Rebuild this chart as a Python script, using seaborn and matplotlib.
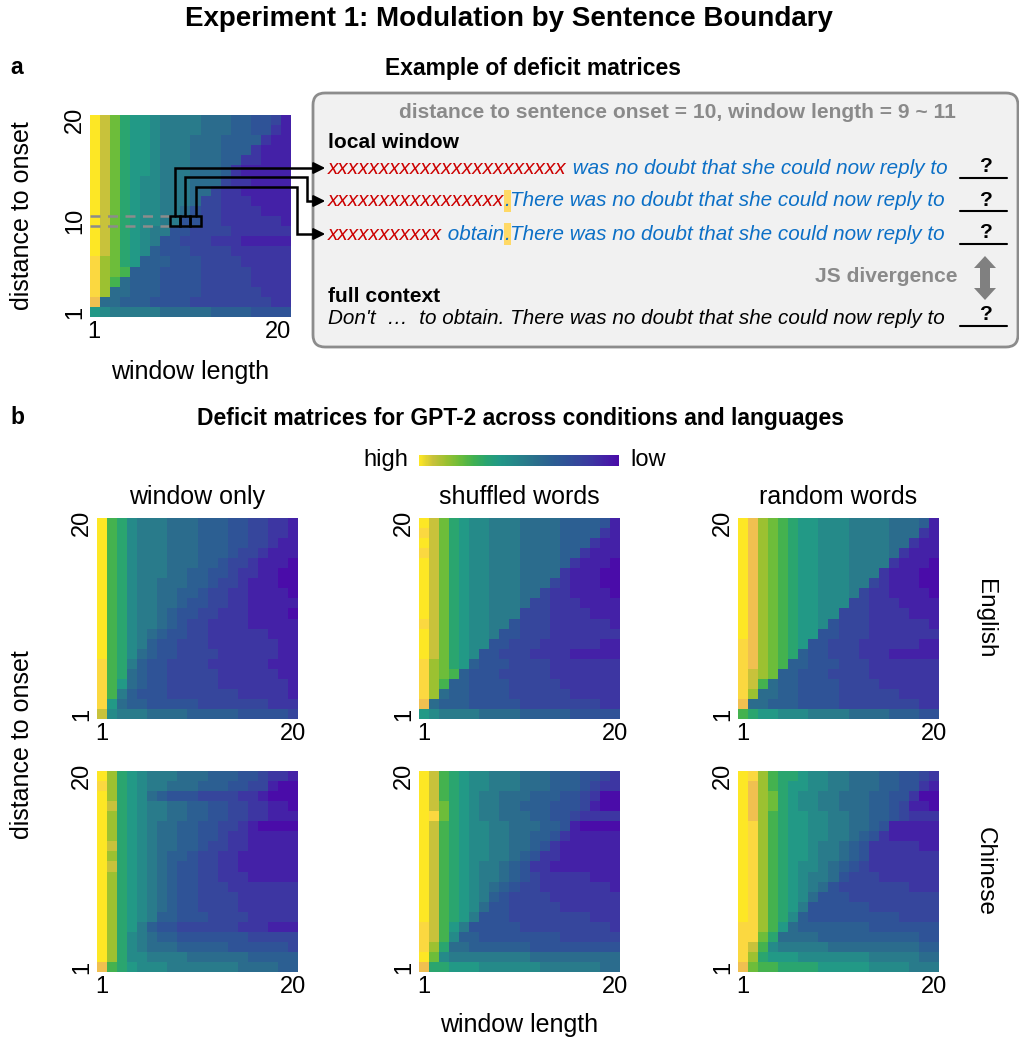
import numpy as np
import pandas as pd
import matplotlib
matplotlib.use("Agg")
import matplotlib.pyplot as plt
import seaborn as sns
from matplotlib.colors import LinearSegmentedColormap
from matplotlib.patches import FancyBboxPatch, Rectangle, Polygon
from matplotlib.lines import Line2D

# ---------------- data ----------------
# deficit level per cell, coded 0 (low) ... f (high), g/h = highest (orange tint)
LEVEL_CHARS = "0123456789abcdefgh"
window_length = list(range(1, 21))
distance = list(range(20, 0, -1))          # rows listed from distance 20 (top) to 1

example_matrix = [
    "feca9987777666554431", "feca9987777666554421", "feca9987776665555211",
    "feca9987776665552111", "feca9987776665522111", "feca9987776665211111",
    "feca9887776663221111", "feca9887776632211111", "feca9887776332221111",
    "feca9887764332222111", "feca9887744332222221", "feca9877443333222222",
    "feca9874433322211111", "feca9854443333222222", "gdca9555444333322222",
    "gdcb5554444333332222", "gdb65554444333332222", "gd665554444333333222",
    "h6655544443333333322", "98777776666655554444",
]
english_window = [
    "fba87776665554433221", "fba87776665554433221", "fba87776665554433211",
    "fba87776665554332111", "fba87776665543321110", "fba87776655443221100",
    "fba87766655433211100", "fba87766554332211110", "fba87766544332211111",
    "fba87765443322211110", "fba87765433222211111", "fba87654433222222111",
    "fba87544333222222211", "fba86544333322222211", "gba75443333222222111",
    "gba65443333322222211", "gb965443333322222221", "gb754443333333222221",
    "g9655444443333333222", "e8777666655555444443",
]
english_shuffled = [
    "feca9887776666555541", "geca9887776666555521", "feca9887776666555211",
    "geca9887776666552111", "feca9887776666521110", "feca9887776666211100",
    "feca9887776663211100", "feca9887776632211110", "feca9887776332221111",
    "feca9887773332222111", "geca9887743332222221", "feca9887443332222222",
    "feca9884433322222211", "feca9844333222211111", "gdca9544433332222222",
    "gdcb5444333332222222", "gdb55444433333222222", "gd655444433333322222",
    "h6555444443333333322", "98777766665555544444",
]
english_random = [
    "fhdcba99888777766651", "fhdcba99888777766621", "fhdcba99888777766211",
    "fhdcba99888777762111", "fhdcba99888777721110", "fhdcba99888777211100",
    "fhdcba99888773211100", "fhdcba99888732211110", "fhdcba99888332221111",
    "fhdcba99883332222111", "fhdcba99843332222221", "fhdcba99443332222222",
    "ghdcba94433322222211", "ghdcba54433322211111", "ghdcb554443332222222",
    "gedc5544433332222222", "geb65544443333222222", "gd665544443333332222",
    "h6655544443333333322", "ba998887777666655544",
]
chinese_window = [
    "fda98777666555443221", "gda98776665554433100", "fda98654443333221000",
    "fea98776655443322110", "fda98776655443322111", "fda98766554433210000",
    "fda98766554432211111", "fea98766554332211111", "fda98765543322111111",
    "fea98765443322111111", "fda98765443322211111", "fda98765443332222222",
    "fda98765443333222222", "fda98765443333222222", "fda98755444333322222",
    "fda97544333333222111", "fda87655444444433333", "fda87666555554444443",
    "fda88777766666655555", "hba98887777777666655",
]
chinese_shuffled = [
    "feba9887776665554432", "feba9887776665554322", "feba9877666555443200",
    "feca9877665554443100", "fgca9877666554432222", "feba9887766655410000",
    "feba9887766554211111", "feba9887766542111111", "feba9887765422111111",
    "feba9877654221111111", "feba9877654322222111", "feba9876543322222221",
    "feba9875433332222222", "feba9864433333222222", "feba9744433333333222",
    "geb97444443333333332", "geb85544444444333333", "gda66555555444444444",
    "fc877777777666666666", "haa99988888877777766",
]
chinese_random = [
    "fgdbaa98877666554432", "fhdba998877666554421", "fhdca988776665544200",
    "fhdca988776665543110", "fhdba998877665543222", "fgdba998877665411111",
    "fgdba998877654211111", "fgdba998776542222211", "fgdba998776542222222",
    "fgdba988765432222222", "fgdba987764333222222", "fgdba987643333333222",
    "fgdba986444333333333", "fgdba974444443333333", "fgdba854444444443333",
    "ggdb9655555554444444", "ggca6666555555555544", "geb87777766666666655",
    "gda99988888887777766", "hcbbaaaa999998888777",
]

conditions = ["window only", "shuffled words", "random words"]
languages = ["English", "Chinese"]
panel_rows = {
    ("English", "window only"): english_window,
    ("English", "shuffled words"): english_shuffled,
    ("English", "random words"): english_random,
    ("Chinese", "window only"): chinese_window,
    ("Chinese", "shuffled words"): chinese_shuffled,
    ("Chinese", "random words"): chinese_random,
}

# ---------------- style ----------------
LEVEL_COLORS = ["#4A0CA9", "#4421A7", "#3D36A2", "#36469C", "#2F5397", "#2C5F92",
                "#2B6C8D", "#297B8B", "#258A89", "#229986", "#2AA56F", "#44B24F",
                "#6DBD3A", "#9CC131", "#C8C23B", "#FDE725", "#FBD840", "#F0C050"]
cmap = LinearSegmentedColormap.from_list(
    "deficit", list(zip(np.linspace(0, 1, len(LEVEL_COLORS)), LEVEL_COLORS)))
VMAX = len(LEVEL_CHARS) - 1

sns.set_theme(style="white")
plt.rcParams["font.family"] = ["Liberation Sans", "DejaVu Sans"]
for key in ("text.color", "axes.labelcolor", "xtick.color", "ytick.color"):
    plt.rcParams[key] = "black"

W, H = 1019, 1046
fig = plt.figure(figsize=(W / 100, H / 100), dpi=100)
fig.patch.set_facecolor("white")


def rect(x0, y0, x1, y1):
    return [x0 / W, 1 - y1 / H, (x1 - x0) / W, (y1 - y0) / H]


def decode(rows):
    return np.array([[LEVEL_CHARS.index(ch) for ch in (r + r[-1] * 20)[:20]] for r in rows], float)


def draw(ax, rows, mid_tick=False):
    df = pd.DataFrame(decode(rows), index=distance, columns=window_length)
    sns.heatmap(df, ax=ax, cmap=cmap, vmin=0, vmax=VMAX, cbar=False, linewidths=0,
                xticklabels=False, yticklabels=False)
    ax.set_xticks([0.5, 19.5])
    ax.set_xticklabels(["1", "20"], fontsize=17)
    yt, yl = [0.5, 19.5], ["20", "1"]
    if mid_tick:
        yt, yl = [0.5, 10.5, 19.5], ["20", "10", "1"]
        ax.set_xticks([0.4, 20.0])
        ax.set_xticklabels(["1", "20"], fontsize=17)
        ax.get_xticklabels()[1].set_ha("right")
    ax.set_yticks(yt)
    ax.set_yticklabels(yl, rotation=90, va="center", fontsize=17)
    ax.tick_params(length=0, pad=3)
    ax.set_xlabel("")
    ax.set_ylabel("")


# panel a heatmap
A = (90, 115, 291, 317)
ax_a = fig.add_axes(rect(*A))
draw(ax_a, example_matrix, mid_tick=True)

# panel b heatmaps
col_x = [(97, 298), (419, 620), (738, 939)]
row_y = [(518, 719), (771, 972)]
for i, lang in enumerate(languages):
    for j, cond in enumerate(conditions):
        ax = fig.add_axes(rect(col_x[j][0], row_y[i][0], col_x[j][1], row_y[i][1]))
        draw(ax, panel_rows[(lang, cond)])

# colour legend
ax_cb = fig.add_axes(rect(419, 455, 619, 466))
ax_cb.imshow(np.linspace(15, 0, 256)[None, :], aspect="auto", cmap=cmap, vmin=0, vmax=VMAX)
ax_cb.axis("off")

# ---------------- overlay (texts, box, connectors) ----------------
ov = fig.add_axes([0, 0, 1, 1], zorder=10)
ov.set_xlim(0, W)
ov.set_ylim(H, 0)
ov.axis("off")
ov.patch.set_alpha(0)

ov.text(509, 19, "Experiment 1: Modulation by Sentence Boundary", ha="center", va="center",
        fontsize=20, weight="bold")
ov.text(10, 68, "a", ha="left", va="center", fontsize=16.5, weight="bold")
ov.text(533, 68, "Example of deficit matrices", ha="center", va="center", fontsize=16.5, weight="bold")
ov.text(10, 418, "b", ha="left", va="center", fontsize=16.5, weight="bold")
ov.text(521, 418, "Deficit matrices for GPT-2 across conditions and languages", ha="center",
        va="center", fontsize=16.5, weight="bold")

ov.text(22, 216, "distance to onset", rotation=90, ha="center", va="center", fontsize=18)
ov.text(190, 372, "window length", ha="center", va="center", fontsize=18)
ov.text(22, 745, "distance to onset", rotation=90, ha="center", va="center", fontsize=18)
ov.text(519, 1025, "window length", ha="center", va="center", fontsize=18)
for j, cond in enumerate(conditions):
    ov.text((col_x[j][0] + col_x[j][1]) / 2, 497, cond, ha="center", va="center", fontsize=18)
for i, lang in enumerate(languages):
    ov.text(985, (row_y[i][0] + row_y[i][1]) / 2, lang, rotation=270, ha="center",
            va="center", fontsize=17.5)
ov.text(408, 460, "high", ha="right", va="center", fontsize=17)
ov.text(630, 460, "low", ha="left", va="center", fontsize=17)

# text box
ov.add_patch(FancyBboxPatch((313, 93), 705, 254, boxstyle="round,pad=0,rounding_size=12",
                            facecolor="#F1F1F1", edgecolor="#8C8C8C", linewidth=2))
GREY = "#8A8A8A"
RED = "#CC0000"
BLUE = "#0B6FC6"
FS = 15.1
ov.text(677, 113, "distance to sentence onset = 10, window length = 9 ~ 11", ha="center",
        va="center", fontsize=FS, weight="bold", color=GREY)
ov.text(328, 143, "local window", ha="left", va="center", fontsize=FS, weight="bold")
ov.text(328, 296, "full context", ha="left", va="center", fontsize=FS, weight="bold")
ov.text(958, 277, "JS divergence", ha="right", va="center", fontsize=FS, weight="bold", color=GREY)

renderer = fig.canvas.get_renderer()


def seg_line(x, y, parts):
    out = []
    for s, color in parts:
        t = ov.text(x, y, s, color=color, style="italic", fontsize=FS - 0.2, ha="left",
                    va="center", zorder=3)
        w = t.get_window_extent(renderer=renderer).width
        out.append((x, w))
        x += w
    return out


line_y = [168, 201, 234]
seg_line(328, line_y[0], [("x" * 23, RED), (" was no doubt that she could now reply to", BLUE)])
p2 = seg_line(328, line_y[1], [("x" * 17, RED), (".", BLUE),
                                ("There was no doubt that she could now reply to", BLUE)])
p3 = seg_line(328, line_y[2], [("x" * 11, RED), (" obtain", BLUE), (".", BLUE),
                                ("There was no doubt that she could now reply to", BLUE)])
for pos, y in ((p2[1], line_y[1]), (p3[2], line_y[2])):
    ov.add_patch(Rectangle((pos[0] - 0.5, y - 11), pos[1] + 1.5, 22, facecolor="#FFD966",
                           edgecolor="none", zorder=2))
ov.text(328, 318, "Don't  \u2026  to obtain. There was no doubt that she could now reply to",
        ha="left", va="center", fontsize=FS - 0.2, style="italic")

for y in line_y + [316]:
    ov.text(985, y - 1, "?", ha="center", va="center", fontsize=FS, weight="bold")
    ov.add_line(Line2D([960, 1007], [y + 10, y + 10], color="black", lw=1.5))

# double arrow (JS divergence)
cx, y0, y1 = 985, 256, 300
ov.add_patch(Polygon([(cx, y0), (cx + 11, y0 + 12), (cx + 5, y0 + 12), (cx + 5, y1 - 12),
                      (cx + 11, y1 - 12), (cx, y1), (cx - 11, y1 - 12), (cx - 5, y1 - 12),
                      (cx - 5, y0 + 12), (cx - 11, y0 + 12)], closed=True,
                     facecolor="#808080", edgecolor="none"))

# highlighted cells and connectors on panel a
cw = (A[2] - A[0]) / 20
ch = (A[3] - A[1]) / 20
row_top = A[1] + (20 - 10) * ch
cells = [9, 10, 11]
for c in cells:
    ov.add_patch(Rectangle((A[0] + (c - 1) * cw, row_top), cw, ch, facecolor="none",
                           edgecolor="black", lw=1.8, zorder=5))
for yy in (row_top, row_top + ch):
    ov.add_line(Line2D([A[0], A[0] + (cells[0] - 1) * cw], [yy, yy], color="#8C8C8C", lw=1.8,
                       ls=(0, (4, 3)), zorder=4))
turns = [(167, None), (177, 307), (187, 297)]
for k, c in enumerate(cells):
    xc = A[0] + (c - 0.5) * cw
    yh, xt = turns[k]
    ty = line_y[k]
    if xt is None:
        xs, ys = [xc, xc, 318], [row_top, ty, ty]
    else:
        xs, ys = [xc, xc, xt, xt, 318], [row_top, yh, yh, ty, ty]
    ov.add_line(Line2D(xs, ys, color="black", lw=1.8, zorder=5, solid_joinstyle="miter"))
    ov.annotate("", xy=(328, ty), xytext=(316, ty),
                arrowprops=dict(arrowstyle="-|>,head_length=0.5,head_width=0.25",
                                color="black", lw=1.5, mutation_scale=14), zorder=5)

fig.savefig("out.png", dpi=100, facecolor="white")
